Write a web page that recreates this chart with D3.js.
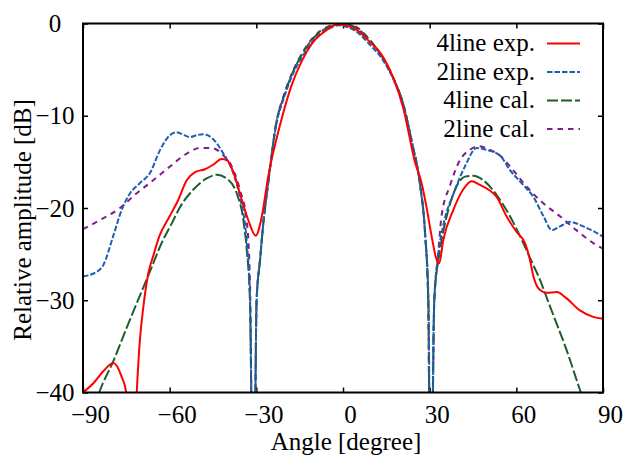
<!DOCTYPE html>
<html>
<head>
<meta charset="utf-8">
<script src="https://cdn.jsdelivr.net/npm/d3@7"></script>
<style>
  body { margin: 0; background: #fff; }
  svg text { font-family: "Liberation Serif", "Times New Roman", Tinos, "Nimbus Roman", FreeSerif, "DejaVu Serif", serif; fill: #000; }
</style>
</head>
<body>
<script>
// angle [degree] / relative amplitude [dB]
var exp4Angle = [-90, -86.4, -83, -79.5, -76.6, -75.1, -74, -73, -72, -71.4, -70.3, -69.1, -67.4, -65.7, -63.5, -60, -57, -54.1, -51.2, -47.8, -44.9, -42, -40.3, -37.4, -35.7, -32.8, -30.2, -28.1, -25.9, -21.8, -17.8, -14.3, -10.3, -5.6, -2.2, 0.7, 4.7, 9.3, 13.4, 17.4, 20.9, 24.9, 27.2, 28.9, 30.7, 32.4, 33.3, 34.7, 38.2, 41.6, 44.5, 47.4, 50.3, 53.2, 56.6, 60.1, 63, 64.7, 65.9, 68.2, 70.5, 74, 77.4, 82, 86.6, 90];
var exp4Amp = [-40, -39, -37.7, -36.8, -38.3, -39.9, -44, -46, -44, -40, -34.3, -30.7, -27.1, -25.2, -23.0, -20.9, -19.1, -17, -16.1, -15.8, -15.3, -14.7, -14.8, -16.6, -18.4, -21.3, -23, -20.9, -16.6, -11, -6.7, -4.1, -2, -0.7, -0.1, -0.2, -0.7, -2, -3.4, -5.9, -9.2, -15, -17.3, -19.9, -23.1, -25.6, -26, -23.5, -20.2, -18, -17.1, -17.5, -18, -18.8, -20.9, -22.6, -23.8, -25.6, -27.4, -28.9, -29.2, -29.1, -29.8, -31.1, -31.8, -32];

var exp2Angle = [-90, -86.4, -83, -79.5, -76.6, -73.7, -70.3, -66.8, -63.3, -59.9, -57.6, -55, -53, -50.5, -48.4, -45.4, -41.4, -38, -35.7, -33.3, -32.2, -31, -29.9, -28.7, -27.6, -25.9, -23, -20.7, -17.8, -14.3, -10.3, -5.6, -1.5, 0.5, 4.7, 9.3, 13.9, 17.4, 20.9, 23.8, 26.6, 28.4, 29.6, 30.4, 31.6, 33, 35, 38.2, 42.2, 46.3, 49.7, 54.3, 57.8, 62.4, 65.9, 69.4, 72.3, 75.1, 78.6, 83.2, 87.8, 90];
var exp2Amp = [-27.4, -27.1, -26.2, -23, -20.2, -18.4, -17.3, -16.2, -13.7, -12.1, -11.8, -12.1, -12.3, -12.1, -12.0, -12.4, -14.1, -16.2, -18.8, -23.8, -30, -58, -30, -25.6, -21.7, -17.3, -10.8, -8.3, -5.8, -3.7, -1.9, -0.7, -0.2, -0.3, -0.9, -2.3, -4.0, -6.0, -8.8, -12.8, -17.3, -22.7, -30, -58, -30, -25, -21.5, -18.5, -15.5, -13.5, -13.7, -14.3, -15.9, -17.5, -18.8, -20.9, -22.4, -22.0, -21.5, -22.0, -22.7, -23.1];

var cal4Angle = [-86, -84.4, -79.5, -74.9, -70.3, -66.2, -62.8, -59, -56.4, -51.8, -47.2, -43.7, -40.3, -36.8, -34.5, -33.3, -32.2, -31, -29.9, -28.7, -27.6, -25.9, -23, -20.7, -17.8, -14.3, -10.3, -5.6, -1, 0, 4.7, 9.3, 13.9, 17.4, 20.9, 23.8, 26.6, 28.4, 29.5, 30.3, 31.6, 33.6, 35.9, 38.8, 42.2, 45.1, 48.6, 53.2, 57.8, 62.4, 65.3, 68.2, 69.9, 72.8, 77.4, 82, 84];
var cal4Amp = [-41.5, -40, -36.6, -33.0, -29.5, -26.4, -23.8, -21.5, -19.9, -18.0, -16.8, -16.4, -16.8, -18.4, -21.3, -24.6, -30, -58, -30, -25.6, -21.7, -17.3, -10.6, -8.1, -5.6, -3.4, -1.6, -0.5, 0, 0, -0.5, -1.8, -3.8, -5.9, -8.8, -12.8, -17.3, -22.7, -30, -58, -30, -24.5, -20.9, -18.0, -16.6, -16.5, -17.0, -18.6, -20.9, -23.8, -25.8, -27.8, -29.2, -31.6, -35.4, -39.7, -41.5];

var cal2Angle = [-90, -84.1, -77.2, -71.4, -65.7, -59.9, -54.1, -49.5, -45.5, -41.4, -38.5, -35.7, -33.3, -32.2, -31, -29.9, -28.7, -27.6, -25.9, -23, -20.7, -17.8, -14.3, -10.3, -5.6, -1, 0, 4.7, 9.3, 13.9, 17.4, 20.9, 23.8, 26.6, 28.4, 29.5, 30.3, 31.6, 32.8, 34.1, 37, 40.5, 43.9, 46.8, 50.9, 54.3, 58.9, 63.6, 69.4, 75.1, 80.8, 86.6, 90];
var cal2Amp = [-22.3, -21.3, -20.0, -18.4, -17.0, -15.5, -14.1, -13.5, -13.5, -14.3, -15.5, -18.0, -21.5, -28, -58, -30, -25.6, -21.7, -17.3, -10.6, -8.0, -5.5, -3.3, -1.5, -0.4, 0, 0, -0.4, -1.8, -3.8, -5.9, -8.8, -12.8, -17.3, -22.7, -30, -58, -30, -25.6, -20.9, -17.6, -14.8, -13.7, -13.3, -13.7, -14.3, -15.9, -17.7, -19.5, -20.9, -22.4, -23.8, -24.4];

var seriesNames = ["4line exp.", "2line exp.", "4line cal.", "2line cal."];
var seriesColors = ["#ff0000", "#1f5fb0", "#1d5e2c", "#7f1d8f"];
var seriesDash = [null, "5.5,2", "11,3", "5.5,5"];
var xTicks = [-90, -60, -30, 0, 30, 60, 90];
var yTicks = [-40, -30, -20, -10, 0];

(function(){
	const SVG_WIDTH = 624;
	const SVG_HEIGHT = 456;
	const MARGIN = { top: 23.5, right: 21, bottom: 63.5, left: 83 };
	const FONT = '"Liberation Serif", "Times New Roman", Tinos, "Nimbus Roman", FreeSerif, "DejaVu Serif", serif';
	var width = SVG_WIDTH - MARGIN.left - MARGIN.right;
	var height = SVG_HEIGHT - MARGIN.top - MARGIN.bottom;

	var series = [
		{ angle: exp4Angle, amp: exp4Amp },
		{ angle: exp2Angle, amp: exp2Amp },
		{ angle: cal4Angle, amp: cal4Amp },
		{ angle: cal2Angle, amp: cal2Amp }
	].map(function(s, i){
		return {
			name: seriesNames[i], color: seriesColors[i], dash: seriesDash[i],
			values: s.angle.map(function(a, j){ return { x: a, y: s.amp[j] }; })
		};
	});

	var scaleX = d3.scaleLinear().domain([-90, 90]).range([0, width]);
	var scaleY = d3.scaleLinear().domain([-40, 0]).range([height, 0]);

	var svg = d3.select('body').append('svg')
		.attr('width', SVG_WIDTH)
		.attr('height', SVG_HEIGHT)
		.attr('font-family', FONT)
		.append('g')
		.attr('transform', 'translate(' + MARGIN.left + ',' + MARGIN.top + ')');

	svg.append('clipPath').attr('id', 'plotClip')
		.append('rect').attr('width', width).attr('height', height);

	// axes, ticks point inward
	var xAxis = svg.append('g')
		.attr('transform', 'translate(0,' + height + ')')
		.call(d3.axisBottom(scaleX).tickValues(xTicks).tickSizeInner(-5).tickSizeOuter(0).tickPadding(13));
	xAxis.selectAll('text').attr('x', 7);

	var yAxis = svg.append('g')
		.call(d3.axisLeft(scaleY).tickValues(yTicks).tickSizeInner(-5).tickSizeOuter(0));
	yAxis.selectAll('text').attr('x', -28).attr('text-anchor', 'middle');

	svg.append('g')
		.call(d3.axisTop(scaleX).tickValues(xTicks).tickSizeInner(-5).tickSizeOuter(0).tickFormat(''));
	svg.append('g')
		.attr('transform', 'translate(' + width + ',0)')
		.call(d3.axisRight(scaleY).tickValues(yTicks).tickSizeInner(-5).tickSizeOuter(0).tickFormat(''));

	svg.selectAll('.domain').remove();
	svg.selectAll('.tick line').attr('stroke', '#000').attr('stroke-width', 1.5);
	svg.selectAll('g').attr('font-family', FONT).attr('font-size', 25);
	svg.selectAll('.tick text').attr('fill', '#000');

	// curves
	var line = d3.line()
		.x(function(d){ return scaleX(d.x); })
		.y(function(d){ return scaleY(d.y); })
		.curve(d3.curveMonotoneX);

	var curves = svg.append('g').attr('clip-path', 'url(#plotClip)');
	curves.selectAll('path')
		.data(series.slice().reverse())
		.enter()
		.append('path')
		.attr('fill', 'none')
		.attr('stroke', function(d){ return d.color; })
		.attr('stroke-width', 2)
		.attr('stroke-dasharray', function(d){ return d.dash; })
		.attr('d', function(d){ return line(d.values); });

	// frame
	svg.append('rect')
		.attr('width', width).attr('height', height)
		.attr('fill', 'none').attr('stroke', '#000').attr('stroke-width', 2);

	// legend
	var legend = svg.append('g').selectAll('g')
		.data(series)
		.enter()
		.append('g')
		.attr('transform', function(d, i){ return 'translate(0,' + (20 + i * 28.5) + ')'; });
	legend.append('text')
		.attr('x', 452).attr('y', 7.5)
		.attr('text-anchor', 'end')
		.attr('font-size', 25)
		.text(function(d){ return d.name; });
	legend.append('line')
		.attr('x1', 464).attr('x2', 497)
		.attr('stroke', function(d){ return d.color; })
		.attr('stroke-width', 2)
		.attr('stroke-dasharray', function(d){ return d.dash; });

	// axis titles
	svg.append('text')
		.attr('x', width / 2 + 3).attr('y', height + 57)
		.attr('text-anchor', 'middle')
		.attr('font-size', 25)
		.text('Angle [degree]');
	svg.append('text')
		.attr('transform', 'translate(' + (-52) + ',' + (height / 2 + 12) + ') rotate(-90)')
		.attr('text-anchor', 'middle')
		.attr('font-size', 25)
		.text('Relative amplitude [dB]');
})();
</script>
</body>
</html>
